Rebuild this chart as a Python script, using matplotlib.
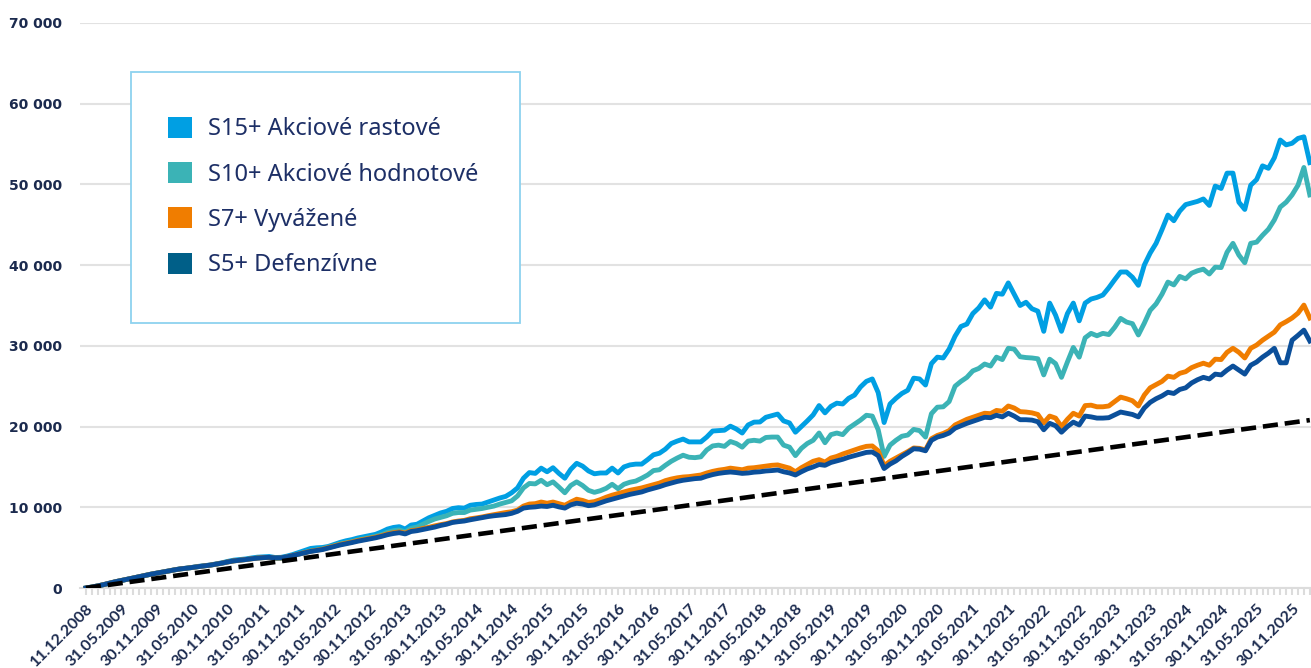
import matplotlib
matplotlib.use("Agg")
import matplotlib.pyplot as plt
from matplotlib.patches import Patch, Rectangle
import pandas as pd

# ---------------- data ----------------
dates = ["11.12.2008"] + [d.strftime("%d.%m.%Y") for d in pd.date_range("2008-12-31", periods=207, freq="ME")]

s15 = [0,120,260,420,600,780,930,1080,1240,1400,
       1560,1720,1850,1980,2120,2260,2380,2460,2560,2680,
       2760,2850,2980,3120,3300,3450,3520,3600,3720,3820,
       3860,3900,3780,3800,3950,4150,4400,4650,4900,4980,
       5020,5150,5400,5650,5850,6000,6200,6350,6500,6650,
       6950,7300,7500,7600,7300,7800,7900,8300,8700,9000,
       9300,9500,9850,9950,9900,10250,10350,10400,10650,10900,
       11150,11350,11800,12400,13600,14300,14200,14850,14400,14900,
       14200,13600,14700,15450,15100,14500,14150,14250,14250,14850,
       14250,15000,15250,15350,15350,15900,16500,16700,17200,17900,
       18200,18450,18100,18100,18100,18700,19450,19500,19550,20050,
       19700,19200,20200,20550,20570,21150,21350,21550,20700,20450,
       19300,20000,20700,21450,22600,21700,22500,22900,22800,23500,
       23900,24900,25600,25900,24200,20500,22800,23500,24100,24500,
       26000,25900,25150,27800,28600,28500,29600,31200,32400,32700,
       34000,34700,35700,34800,36500,36400,37800,36400,35000,35400,
       34600,34300,31800,35300,33800,31800,34000,35300,33100,35300,
       35800,36000,36300,37200,38200,39150,39150,38500,37500,40000,
       41500,42700,44400,46200,45500,46700,47500,47700,47900,48200,
       47400,49800,49500,51400,51400,47800,46900,49900,50600,52300,
       52000,53300,55500,54900,55100,55700,55900,52700]

s10 = [0,120,255,410,590,770,920,1070,1230,1390,
       1550,1700,1830,1960,2100,2240,2360,2440,2540,2650,
       2730,2820,2940,3070,3230,3360,3440,3520,3630,3720,
       3760,3780,3650,3680,3820,4000,4200,4400,4580,4700,
       4850,5050,5250,5450,5600,5750,5950,6100,6250,6400,
       6600,6900,7100,7200,6950,7400,7550,7900,8250,8550,
       8750,8950,9250,9350,9350,9650,9750,9850,10000,10150,
       10400,10600,10800,11400,12400,12950,12900,13350,12800,13150,
       12500,11800,12700,13150,12700,12100,11850,12050,12350,12850,
       12300,12850,13100,13250,13600,14000,14550,14650,15200,15700,
       16100,16450,16200,16150,16250,17100,17600,17700,17550,18150,
       17900,17450,18200,18300,18200,18650,18700,18700,17700,17450,
       16400,17300,17900,18300,19200,18000,19000,19200,19000,19800,
       20300,20800,21400,21300,19600,16300,17700,18300,18800,18950,
       19650,19500,18700,21600,22400,22450,23100,25000,25600,26100,
       26900,27200,27750,27500,28600,28300,29700,29600,28650,28550,
       28500,28400,26400,28350,27800,26100,28000,29800,28600,31000,
       31550,31250,31550,31400,32300,33400,32950,32750,31350,32800,
       34400,35200,36400,37900,37550,38600,38300,39000,39300,39500,
       38900,39750,39700,41600,42700,41250,40300,42700,42850,43700,
       44450,45600,47200,47800,48700,49900,52100,48700]

s7 = [0,120,260,420,600,780,930,1080,1240,1400,
      1560,1710,1840,1970,2110,2250,2370,2450,2550,2660,
      2740,2830,2950,3080,3230,3360,3440,3520,3620,3710,
      3760,3790,3700,3720,3850,4020,4200,4380,4560,4680,
      4800,5000,5200,5400,5550,5700,5880,6020,6160,6300,
      6480,6700,6850,6950,6800,7100,7200,7380,7520,7700,
      7850,7980,8180,8300,8380,8580,8680,8800,8950,9080,
      9220,9350,9450,9650,10150,10400,10450,10650,10500,10650,
      10450,10250,10650,11000,10850,10600,10700,10950,11250,11500,
      11700,11900,12100,12250,12400,12600,12800,13000,13300,13500,
      13650,13750,13800,13900,14000,14250,14450,14600,14700,14850,
      14750,14650,14850,14900,15000,15100,15200,15250,15050,14850,
      14400,14900,15300,15700,15900,15600,16100,16300,16600,16850,
      17100,17350,17550,17600,17000,15150,15700,16100,16500,16900,
      17350,17300,17100,18500,18900,19150,19500,20200,20550,20900,
      21150,21400,21650,21600,22000,21900,22550,22300,21850,21800,
      21700,21500,20450,21300,21050,20000,20900,21650,21300,22600,
      22650,22450,22450,22550,23100,23650,23450,23200,22550,23900,
      24800,25200,25600,26250,26100,26600,26800,27300,27600,27850,
      27600,28350,28300,29200,29700,29200,28500,29700,30100,30700,
      31200,31700,32600,33000,33450,34050,35050,33450]

s5 = [0,120,260,420,600,780,930,1080,1240,1400,
      1560,1710,1840,1970,2110,2250,2370,2450,2550,2660,
      2740,2830,2950,3080,3230,3360,3440,3520,3620,3700,
      3760,3800,3720,3740,3860,4020,4190,4360,4530,4650,
      4760,4950,5150,5330,5480,5630,5800,5940,6080,6220,
      6400,6600,6750,6850,6700,7000,7100,7250,7400,7550,
      7750,7900,8120,8220,8300,8450,8580,8720,8850,8950,
      9020,9100,9250,9500,9900,10000,10050,10150,10100,10250,
      10050,9900,10300,10500,10400,10200,10300,10550,10800,11000,
      11200,11400,11600,11750,11900,12150,12350,12550,12800,13000,
      13200,13350,13450,13550,13600,13850,14050,14200,14300,14370,
      14300,14200,14250,14350,14400,14500,14550,14620,14400,14250,
      14000,14400,14750,15000,15300,15200,15550,15750,15950,16200,
      16400,16600,16800,16850,16400,14800,15350,15750,16300,16750,
      17250,17200,17000,18300,18700,18900,19200,19800,20100,20400,
      20650,20900,21150,21100,21400,21200,21650,21300,20850,20850,
      20800,20600,19600,20400,20100,19300,20000,20550,20200,21300,
      21200,21050,21050,21100,21450,21800,21650,21500,21200,22300,
      23000,23450,23800,24250,24100,24600,24800,25400,25800,26100,
      25900,26500,26400,27000,27500,27000,26500,27600,28000,28600,
      29100,29700,27900,27900,30700,31300,31950,30600]

invested_idx = [0, 207]
invested = [0, 20800]

series_names = ["S15+ Akciové rastové", "S10+ Akciové hodnotové", "S7+ Vyvážené", "S5+ Defenzívne"]
line_colors = ["#009fe3", "#3bb3b6", "#f07d00", "#0b4f9a"]
legend_colors = ["#009fe3", "#3bb3b6", "#f07d00", "#005f88"]

yticks = [0, 10000, 20000, 30000, 40000, 50000, 60000, 70000]
ytick_labels = ["0", "10 000", "20 000", "30 000", "40 000", "50 000", "60 000", "70 000"]

# ---------------- figure ----------------
W, H = 1311, 668
fig = plt.figure(figsize=(W / 100, H / 100), dpi=100)
ax = fig.add_axes([80 / W, (H - 588) / H, (W - 80) / W, (588 - 23) / H])

navy = "#1b2a4e"

for vals, c in zip([s15, s10, s7, s5], line_colors):
    ax.plot(range(len(vals)), vals, color=c, lw=3.5, solid_joinstyle="round", zorder=3)
ax.plot(invested_idx, invested, color="black", lw=3.3, dashes=(3.3, 1.5), zorder=4)

ax.set_xlim(-1.0, 207.2)
ax.set_ylim(0, 70000)

ax.set_yticks(yticks)
ax.set_yticklabels(ytick_labels, fontfamily="DejaVu Sans", fontweight="bold", fontsize=10, color=navy)
ax.tick_params(axis="y", length=0, pad=13)
ax.grid(axis="y", color="#e2e2e2", lw=1.5, zorder=0)
ax.set_axisbelow(True)

major = list(range(0, len(dates), 6))
ax.set_xticks(major)
ax.set_xticklabels([dates[i] for i in major], rotation=45, ha="right", va="top",
                   rotation_mode="anchor", fontfamily="Lato", fontweight="bold",
                   fontsize=11.5, color=navy)
ax.set_xticks(range(len(dates)), minor=True)
ax.tick_params(axis="x", which="both", length=5, width=1.5, color="#dcdcdc", direction="out")
ax.tick_params(axis="x", which="major", pad=5)

for s in ["top", "right", "left"]:
    ax.spines[s].set_visible(False)
ax.spines["bottom"].set_color("#dcdcdc")
ax.spines["bottom"].set_linewidth(1.5)

# legend box
box = Rectangle((131 / W, (H - 323) / H), 389 / W, 251 / H, transform=fig.transFigure,
                facecolor="white", edgecolor="#8dd2ef", lw=1.3, zorder=5, clip_on=False)
ax.add_patch(box)

handles = [Patch(facecolor=c, edgecolor="none") for c in legend_colors]
leg = ax.legend(handles, series_names, loc="upper left",
                bbox_to_anchor=(168 / W, (H - 116.5) / H), bbox_transform=fig.transFigure,
                borderaxespad=0, borderpad=0, prop={"family": "Noto Sans", "size": 17},
                handlelength=1.0, handleheight=1.0, handletextpad=0.68,
                labelspacing=0.88, frameon=False)
leg.set_zorder(6)
for t in leg.get_texts():
    t.set_color("#1d2f66")

fig.savefig("out.png", dpi=100)
